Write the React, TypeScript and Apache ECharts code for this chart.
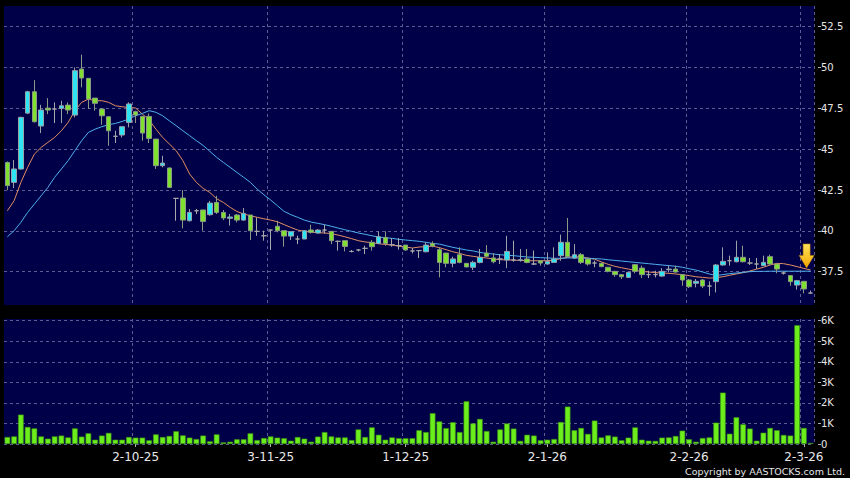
import React, { useEffect, useRef } from "react";
import * as echarts from "echarts";

const dates = [
  "2025-09-04","2025-09-05","2025-09-08","2025-09-09","2025-09-10","2025-09-11","2025-09-12","2025-09-15","2025-09-16","2025-09-17","2025-09-18","2025-09-19","2025-09-22","2025-09-23","2025-09-24","2025-09-25","2025-09-26","2025-09-29","2025-09-30",
  "2025-10-02","2025-10-03","2025-10-06","2025-10-08","2025-10-09","2025-10-10","2025-10-13","2025-10-14","2025-10-15","2025-10-16","2025-10-17","2025-10-20","2025-10-21","2025-10-22","2025-10-23","2025-10-24","2025-10-27","2025-10-28","2025-10-30","2025-10-31",
  "2025-11-03","2025-11-04","2025-11-05","2025-11-06","2025-11-07","2025-11-10","2025-11-11","2025-11-12","2025-11-13","2025-11-14","2025-11-17","2025-11-18","2025-11-19","2025-11-20","2025-11-21","2025-11-24","2025-11-25","2025-11-26","2025-11-27","2025-11-28",
  "2025-12-01","2025-12-02","2025-12-03","2025-12-04","2025-12-05","2025-12-08","2025-12-09","2025-12-10","2025-12-11","2025-12-12","2025-12-15","2025-12-16","2025-12-17","2025-12-18","2025-12-19","2025-12-22","2025-12-23","2025-12-24","2025-12-29","2025-12-30","2025-12-31",
  "2026-01-02","2026-01-05","2026-01-06","2026-01-07","2026-01-08","2026-01-09","2026-01-12","2026-01-13","2026-01-14","2026-01-15","2026-01-16","2026-01-19","2026-01-20","2026-01-21","2026-01-22","2026-01-23","2026-01-26","2026-01-27","2026-01-28","2026-01-29","2026-01-30",
  "2026-02-02","2026-02-03","2026-02-04","2026-02-05","2026-02-06","2026-02-09","2026-02-10","2026-02-11","2026-02-12","2026-02-13","2026-02-16","2026-02-20","2026-02-23","2026-02-24","2026-02-25","2026-02-26","2026-02-27",
  "2026-03-02","2026-03-03",
];

const opens = [
  44.19,42.97,43.79,47.21,48.52,46.42,47.52,47.46,47.50,47.70,
  47.09,49.91,49.34,48.13,47.46,46.99,45.79,45.87,46.64,47.30,
  47.01,47.01,45.62,43.99,43.85,41.99,42.01,40.62,41.23,41.28,
  40.99,41.74,41.13,40.77,40.97,40.66,40.97,39.97,39.70,40.05,
  40.28,40.01,39.68,39.50,39.50,40.05,39.87,40.05,39.97,39.36,
  39.40,38.74,38.83,38.93,39.30,39.23,39.60,39.15,39.09,39.13,
  38.77,38.79,38.72,39.23,38.85,38.64,38.01,38.54,38.01,37.77,
  38.07,38.64,38.34,38.28,38.21,38.21,38.19,38.28,37.97,38.17,
  37.97,38.07,38.48,39.30,38.34,38.54,38.28,38.03,38.01,37.77,
  37.52,37.32,37.15,37.93,37.72,37.32,37.32,37.23,37.62,37.66,
  37.32,36.99,36.79,36.99,36.62,36.89,37.91,38.17,38.11,38.38,
  38.03,37.97,37.87,38.42,37.97,37.42,37.26,36.68,36.91,36.19,
];

const closes = [
  42.77,43.79,46.95,48.52,46.68,47.40,47.40,47.46,47.66,47.40,
  49.81,49.36,48.07,47.81,47.05,46.13,45.79,46.38,47.77,47.09,
  45.99,45.66,43.99,44.15,42.66,41.99,40.66,41.13,41.23,40.58,
  41.70,41.13,40.79,40.85,40.66,41.07,40.01,39.97,39.70,40.05,
  40.01,39.68,39.95,39.50,40.01,39.91,40.05,40.05,39.40,39.36,
  39.05,38.74,38.83,38.93,39.03,39.64,39.23,39.15,39.09,38.83,
  38.77,38.79,39.13,39.07,38.07,38.01,38.28,38.07,37.79,38.07,
  38.38,38.44,38.11,38.28,38.74,38.21,38.23,38.07,37.97,38.03,
  38.13,38.28,39.30,38.42,38.54,38.07,37.97,38.03,37.81,37.52,
  37.32,37.19,37.46,37.52,37.32,37.32,37.32,37.52,37.66,37.48,
  36.99,36.58,36.91,36.62,36.62,37.91,38.13,38.17,38.38,38.11,
  38.03,37.97,38.07,37.97,37.66,37.42,36.89,36.95,36.44,36.19,
];

const lows = [
  42.50,42.62,43.74,47.15,46.64,45.99,47.15,46.60,46.60,47.15,
  46.95,48.79,47.46,47.36,46.50,45.21,45.38,45.72,46.34,46.60,
  45.52,45.38,43.79,43.89,42.62,40.62,40.15,40.58,41.03,40.01,
  40.93,41.03,40.66,40.32,40.52,40.62,39.44,39.70,39.40,38.83,
  39.91,39.03,39.44,39.19,39.50,39.83,39.83,39.83,39.19,38.79,
  38.74,38.68,38.74,38.58,38.79,39.19,39.09,39.03,38.85,38.79,
  38.62,38.34,38.68,38.99,37.15,37.77,37.77,38.01,37.77,37.60,
  38.01,38.42,38.01,37.97,37.72,38.11,38.11,38.01,37.91,37.87,
  37.93,38.07,38.17,38.38,38.28,37.97,37.87,37.77,37.77,37.46,
  37.19,37.05,37.11,37.40,37.11,37.11,37.15,37.19,37.46,37.44,
  36.64,36.50,36.54,36.50,36.03,36.23,37.87,37.87,38.07,38.07,
  37.91,37.66,37.87,37.93,37.40,37.32,36.64,36.40,36.17,36.19,
];

const highs = [
  44.25,44.34,46.99,48.58,49.23,47.72,48.13,47.87,47.97,47.87,
  50.01,50.79,49.34,48.13,47.52,46.99,46.13,46.38,47.87,47.36,
  47.01,47.19,45.62,44.60,43.89,41.99,42.50,41.34,41.34,41.28,
  41.84,42.15,41.28,41.03,41.03,41.40,40.97,40.83,40.01,40.05,
  40.62,40.01,39.95,39.70,40.05,40.38,40.11,40.38,39.97,39.40,
  39.40,38.83,38.89,39.09,39.44,39.97,39.97,39.56,39.56,39.13,
  38.95,38.79,39.30,39.36,38.99,38.64,38.42,38.99,38.01,38.17,
  38.89,39.13,38.64,38.58,39.70,39.40,38.89,38.89,38.79,38.17,
  38.68,38.99,39.77,40.79,39.19,38.64,38.28,38.17,38.07,37.77,
  37.56,37.32,37.46,37.97,37.87,37.56,37.56,37.72,37.87,37.87,
  37.32,37.05,37.05,37.05,36.91,37.97,38.99,38.48,39.40,39.09,
  38.34,38.34,38.48,38.54,37.97,37.52,37.26,36.99,36.91,36.34,
];

const volumes = [
  340,370,1430,830,760,370,260,370,410,320,
  760,360,520,210,410,540,210,210,340,310,
  310,180,470,340,390,620,420,310,240,410,
  130,470,80,110,230,230,520,190,290,370,
  310,280,160,340,260,110,360,580,370,320,
  320,190,710,340,810,450,210,320,280,280,
  280,670,580,1500,1100,770,1060,580,2080,1000,
  1220,630,110,710,1000,750,150,450,410,180,
  210,240,1070,1820,670,780,490,1140,320,420,
  360,180,310,810,210,160,150,310,320,390,
  650,230,110,290,320,1040,2500,500,1300,960,
  750,160,550,780,670,440,410,5780,780,50,
];

const ma10 = [
  41.23,41.85,42.97,43.89,44.70,45.11,45.42,45.72,46.13,46.64,
  47.36,47.87,48.07,47.97,47.97,47.87,47.66,47.60,47.56,47.52,
  47.15,46.79,46.23,45.72,45.32,44.91,44.30,43.48,42.97,42.60,
  42.35,41.97,41.74,41.44,41.19,41.03,40.93,40.83,40.74,40.66,
  40.56,40.38,40.21,40.05,39.97,39.93,39.89,39.87,39.83,39.74,
  39.64,39.52,39.40,39.32,39.28,39.21,39.17,39.13,39.07,39.01,
  38.95,39.01,39.03,39.07,38.97,38.85,38.72,38.62,38.50,38.44,
  38.38,38.34,38.28,38.23,38.23,38.21,38.19,38.17,38.17,38.17,
  38.17,38.21,38.30,38.38,38.42,38.40,38.34,38.26,38.10,37.95,
  37.83,37.74,37.66,37.58,37.52,37.48,37.44,37.42,37.40,37.36,
  37.32,37.26,37.19,37.15,37.11,37.13,37.19,37.28,37.36,37.44,
  37.54,37.66,37.77,37.91,38.01,37.99,37.91,37.81,37.70,37.60,
];

const ma20 = [
  39.64,40.01,40.52,41.13,41.64,42.15,42.66,43.28,43.79,44.30,
  44.91,45.52,46.03,46.23,46.38,46.50,46.58,46.70,46.85,47.05,
  47.19,47.36,47.26,47.05,46.74,46.44,46.13,45.83,45.52,45.23,
  44.87,44.50,44.19,43.89,43.58,43.28,42.97,42.56,42.21,41.89,
  41.54,41.19,40.99,40.83,40.66,40.54,40.46,40.38,40.28,40.17,
  40.07,39.97,39.87,39.79,39.70,39.62,39.58,39.54,39.48,39.44,
  39.40,39.36,39.30,39.23,39.19,39.09,38.99,38.91,38.83,38.77,
  38.68,38.62,38.58,38.54,38.50,38.48,38.44,38.40,38.38,38.36,
  38.34,38.32,38.32,38.34,38.34,38.34,38.32,38.30,38.28,38.23,
  38.19,38.15,38.11,38.07,38.03,37.99,37.95,37.91,37.87,37.83,
  37.77,37.68,37.60,37.48,37.36,37.26,37.32,37.38,37.42,37.46,
  37.50,37.52,37.52,37.53,37.53,37.53,37.53,37.53,37.53,37.53,
];

const monthStartDates = ["2025-10-02","2025-11-03","2025-12-01","2026-01-02","2026-02-02","2026-03-02"];
const monthLabels = ["2-10-25","3-11-25","1-12-25","2-1-26","2-2-26","2-3-26"];
const priceTicks = [37.5, 40, 42.5, 45, 47.5, 50, 52.5];
const volumeTicks = [0, 1000, 2000, 3000, 4000, 5000, 6000];
const arrowPrice = 37.73;

export default function App() {
  const ref = useRef<HTMLDivElement>(null);

  useEffect(() => {
    if (!ref.current) return;
    const chart = echarts.init(ref.current, null, { renderer: "svg" });

    const monthSet = new Set(monthStartDates);
    const idxSet = new Set(dates.map((d, i) => (monthSet.has(d) ? i : -1)).filter((i) => i >= 0));
    const gridLine = { show: true, lineStyle: { color: "#5c5c92", type: [3, 3] as any, width: 1 } };
    const font = "DejaVu Sans";

    const candleData = dates.map((_, i) => [opens[i], closes[i], lows[i], highs[i]]);

    const option: any = {
      animation: false,
      backgroundColor: "#000000",
      grid: [
        { left: 4, top: 6, width: 810, height: 299, show: true, backgroundColor: "#000048", borderWidth: 0 },
        { left: 4, top: 319, width: 810, height: 125, show: true, backgroundColor: "#000048", borderWidth: 0 },
      ],
      xAxis: [
        {
          type: "category",
          gridIndex: 0,
          data: dates,
          boundaryGap: true,
          axisLine: { show: false },
          axisTick: { show: false },
          axisLabel: { show: false },
          splitLine: { ...gridLine, interval: (index: number) => idxSet.has(index) },
        },
        {
          type: "category",
          gridIndex: 1,
          data: dates,
          boundaryGap: true,
          offset: 2,
          axisLine: { show: false },
          axisTick: {
            show: true,
            alignWithLabel: true,
            length: 3,
            interval: (index: number) => idxSet.has(index),
            lineStyle: { color: "#b0b0b0" },
          },
          axisLabel: {
            show: true,
            interval: (index: number) => idxSet.has(index),
            formatter: (v: string) => monthLabels[monthStartDates.indexOf(v)] ?? "",
            color: "#e8e8e8",
            fontSize: 12,
            fontFamily: font,
            margin: 5,
          },
          splitLine: { ...gridLine, interval: (index: number) => idxSet.has(index) },
        },
      ],
      yAxis: [
        {
          type: "value",
          gridIndex: 0,
          position: "right",
          min: 35.46,
          max: 53.77,
          offset: 4,
          axisLine: { show: false },
          axisTick: { show: true, length: 3, customValues: priceTicks, lineStyle: { color: "#b0b0b0" } },
          axisLabel: {
            customValues: priceTicks,
            color: "#e6e6e6",
            fontSize: 10,
            fontFamily: font,
            margin: 3,
            formatter: (v: number) => (Number.isInteger(v) ? String(v) : v.toFixed(1)),
          },
          splitLine: gridLine,
        },
        {
          type: "value",
          gridIndex: 1,
          position: "right",
          min: 0,
          max: 6083,
          offset: 4,
          axisLine: { show: false },
          axisTick: { show: true, length: 3, customValues: volumeTicks, lineStyle: { color: "#b0b0b0" } },
          axisLabel: {
            customValues: volumeTicks,
            color: "#e6e6e6",
            fontSize: 10,
            fontFamily: font,
            margin: 3,
            formatter: (v: number) => (v === 0 ? "0" : v / 1000 + "K"),
          },
          splitLine: gridLine,
        },
      ],
      series: [
        {
          type: "line",
          name: "MA10",
          xAxisIndex: 0,
          yAxisIndex: 0,
          data: ma10,
          showSymbol: false,
          symbol: "none",
          z: 1,
          lineStyle: { color: "#e28f62", width: 1 },
        },
        {
          type: "line",
          name: "MA20",
          xAxisIndex: 0,
          yAxisIndex: 0,
          data: ma20,
          showSymbol: false,
          symbol: "none",
          z: 1,
          lineStyle: { color: "#4fb0ec", width: 1 },
        },
        {
          type: "candlestick",
          xAxisIndex: 0,
          yAxisIndex: 0,
          data: candleData,
          barWidth: 5,
          z: 3,
          itemStyle: {
            color: "#2fe4f2",
            color0: "#80e030",
            borderColor: "#9aa0a8",
            borderColor0: "#8a9a84",
            borderColorDoji: "#a8a8a8",
            borderWidth: 1,
          },
          markPoint: {
            silent: true,
            symbol: "path://M4,0 L11,0 L11,11 L15,11 L7.5,23 L0,11 L4,11 Z",
            symbolSize: [15, 24],
            symbolOffset: [-4, "-50%"],
            label: { show: false },
            itemStyle: {
              color: new echarts.graphic.LinearGradient(0, 0, 0, 1, [
                { offset: 0, color: "#ffe45a" },
                { offset: 1, color: "#f3a600" },
              ]),
              borderColor: "#c08000",
              borderWidth: 0.5,
            },
            data: [{ coord: [dates[dates.length - 1], arrowPrice] }],
          },
        },
        {
          type: "bar",
          xAxisIndex: 1,
          yAxisIndex: 1,
          data: volumes,
          barWidth: 5.6,
          itemStyle: { color: "#6cee1c", borderColor: "#3c9412", borderWidth: 0.6 },
        },
      ],
      graphic: [
        {
          type: "text",
          right: 5,
          bottom: 2,
          style: {
            text: "Copyright by AASTOCKS.com Ltd.",
            fill: "#e6e6e6",
            font: '9.5px "DejaVu Sans"',
          },
        },
      ],
    };

    chart.setOption(option);
    return () => chart.dispose();
  }, []);

  return (
    <div
      ref={ref}
      style={{ position: "absolute", left: 0, top: 0, width: 850, height: 478, background: "#000" }}
    />
  );
}
